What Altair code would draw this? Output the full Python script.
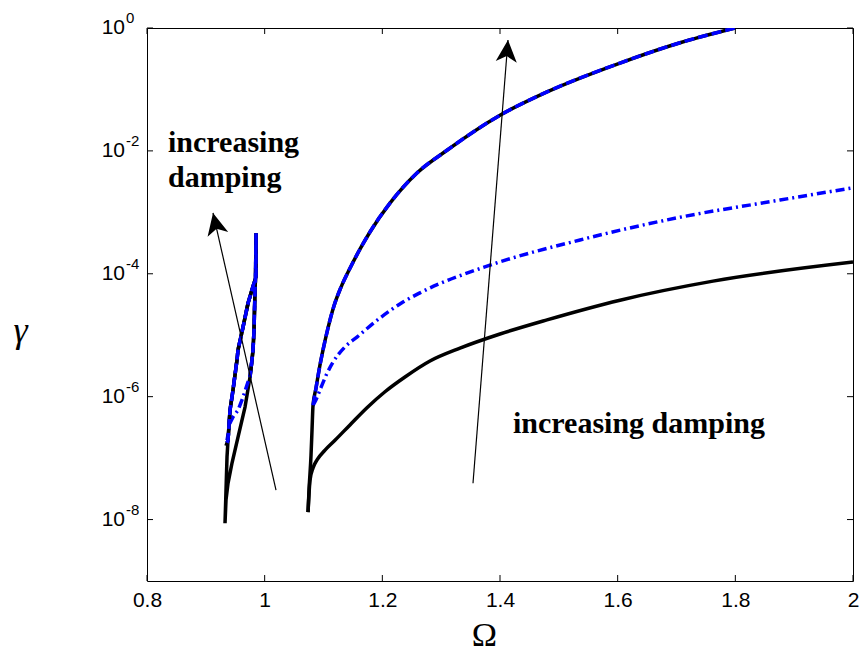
import math
import altair as alt
import pandas as pd

# ---------------- data ----------------
# x = Omega, y = log10(gamma)
# left tongue, black solid
ls_om = [0.9326, 0.9343, 0.9360, 0.9377, 0.9411, 0.9462, 0.9530, 0.9547, 0.9632, 0.9717, 0.9785, 0.9853,
         0.9853, 0.9845, 0.9836, 0.9819, 0.9802, 0.9785, 0.9751, 0.9666, 0.9547, 0.9445, 0.9377, 0.9343, 0.9326]
ls_lg = [-8.06, -7.52, -6.98, -6.71, -6.22, -5.89, -5.40, -5.24, -4.87, -4.48, -4.26, -4.05,
         -3.34, -4.05, -4.26, -4.92, -5.24, -5.40, -5.68, -6.17, -6.66, -7.08, -7.41, -7.68, -8.06]
# left tongue, blue dash-dot
ld_om = [0.9360, 0.9377, 0.9411, 0.9462, 0.9530, 0.9547, 0.9632, 0.9717, 0.9785, 0.9853, 0.9853, 0.9845,
         0.9836, 0.9819, 0.9802, 0.9785, 0.9751, 0.9717, 0.9632, 0.9547, 0.9462, 0.9411, 0.9360]
ld_lg = [-6.75, -6.71, -6.22, -5.89, -5.40, -5.24, -4.87, -4.48, -4.26, -4.05, -3.34, -4.05,
         -4.26, -4.92, -5.24, -5.40, -5.68, -5.76, -6.01, -6.22, -6.33, -6.43, -6.71]
# left tongue, dashed (black + blue)
lt_om = [0.9343, 0.9360, 0.9377, 0.9411, 0.9462, 0.9530, 0.9547, 0.9632, 0.9717, 0.9785, 0.9853, 0.9853,
         0.9845, 0.9836, 0.9819, 0.9802, 0.9785, 0.9751]
lt_lg = [-6.80, -6.75, -6.71, -6.22, -5.89, -5.40, -5.24, -4.87, -4.48, -4.26, -4.05, -3.34,
         -4.05, -4.26, -4.92, -5.24, -5.40, -5.68]

# right branch, black solid
rs_om = [1.0737, 1.0771, 1.0822, 1.0890, 1.1026, 1.1195, 1.1450, 1.1739, 1.2045, 1.2385, 1.2810,
         1.3320, 1.4000, 1.4799, 1.6040, 1.7621, 2.0000]
rs_lg = [-7.88, -7.36, -7.16, -7.03, -6.87, -6.71, -6.46, -6.18, -5.92, -5.68, -5.42,
         -5.21, -4.98, -4.75, -4.43, -4.12, -3.81]
# right branch, blue dash-dot
rd_om = [1.0822, 1.0873, 1.0941, 1.1060, 1.1161, 1.1365, 1.1569, 1.1960, 1.2351, 1.2640, 1.3830,
         1.5360, 1.7060, 1.8759, 2.0000]
rd_lg = [-6.14, -6.05, -5.89, -5.62, -5.44, -5.19, -5.03, -4.72, -4.46, -4.31, -3.86,
         -3.45, -3.08, -2.80, -2.60]
# right branch, dashed: lower black-only part, then the common black/blue part
rl_om = [1.0737, 1.0754, 1.0788, 1.0805]
rl_lg = [-7.88, -7.52, -6.95, -6.54]
rt_om = [1.0822, 1.0873, 1.0924, 1.0992, 1.1077, 1.1179, 1.1297, 1.1450, 1.1620, 1.1790, 1.2130,
         1.2589, 1.3099, 1.4000, 1.4799, 1.6040, 1.7060, 1.7994]
rt_lg = [-6.14, -5.86, -5.57, -5.24, -4.88, -4.52, -4.22, -3.91, -3.60, -3.32, -2.85,
         -2.36, -1.99, -1.42, -1.04, -0.57, -0.24, 0.0]

# arrows: tail (Omega, log10 gamma) -> tip
arr_x0 = [1.3541, 1.0193]
arr_lg0 = [-7.41, -7.52]
arr_x1 = [1.4136, 0.9122]
arr_lg1 = [-0.195, -3.01]

x_ticks = [0.8, 1.0, 1.2, 1.4, 1.6, 1.8, 2.0]
y_exps = [0, -2, -4, -6, -8]

# ---------------- layout ----------------
W, H = 706, 553
X_DOM = [0.8, 2.0]
Y_DOM = [1e-9, 1.0]


def frame(parts):
    rows = []
    for b, om, lg in parts:
        for i, (o, l) in enumerate(zip(om, lg)):
            rows.append({"branch": b, "i": i, "omega": o, "gamma": 10.0 ** l})
    return pd.DataFrame(rows)


xs = alt.Scale(domain=X_DOM, nice=False, zero=False)
ys = alt.Scale(type="log", domain=Y_DOM, nice=False)

x_axis = alt.Axis(values=x_ticks, format="~g", labelFlush=False, labelOverlap=False,
                  labelPadding=8, labelFont="Liberation Sans", labelFontSize=21, labelColor="black",
                  ticks=False, domain=False, grid=False,
                  title="Ω", titleFont="Liberation Serif", titleFontSize=34, titleFontWeight="normal",
                  titleColor="black", titleX=337, titleY=64, titleAlign="center",
                  titleBaseline="alphabetic")
y_axis = alt.Axis(values=[10.0 ** e for e in y_exps], labels=False, ticks=False, domain=False, grid=False,
                  title="γ", titleAngle=0, titleFont="Liberation Serif", titleFontStyle="italic",
                  titleFontSize=36, titleFontWeight="normal", titleColor="black",
                  titleX=-127, titleY=302, titleAlign="center", titleBaseline="middle")


def X(f):
    return alt.X(f, type="quantitative", scale=xs, axis=x_axis)


def Y(f):
    return alt.Y(f, type="quantitative", scale=ys, axis=y_axis)


def curve(df, color, dash=None, width=3.5, interp="linear"):
    kw = dict(color=color, strokeWidth=width, clip=True, strokeCap="butt", interpolate=interp)
    if dash:
        kw["strokeDash"] = dash
    return alt.Chart(df).mark_line(**kw).encode(
        x=X("omega"), y=Y("gamma"), detail="branch:N", order="i:Q")


layers = []
# left tongues (linear) and right branches (smooth)
layers.append(curve(frame([("L", ls_om, ls_lg)]), "black"))
layers.append(curve(frame([("R", rs_om, rs_lg)]), "black", interp="monotone"))
layers.append(curve(frame([("L", ld_om, ld_lg)]), "#0000ff", dash=[9, 4, 2, 4]))
layers.append(curve(frame([("R", rd_om, rd_lg)]), "#0000ff", dash=[9, 4, 2, 4], interp="monotone"))
layers.append(curve(frame([("L", lt_om, lt_lg)]), "black"))
layers.append(curve(frame([("R", rl_om + rt_om, rl_lg + rt_lg)]), "black", interp="monotone"))
layers.append(curve(frame([("L", lt_om[1:], lt_lg[1:])]), "#0000ff", dash=[10, 4]))
layers.append(curve(frame([("R", rt_om, rt_lg)]), "#0000ff", dash=[10, 4], interp="monotone"))

# inward ticks
xt_df = pd.DataFrame({"x": x_ticks})
yt_df = pd.DataFrame({"g": [10.0 ** e for e in y_exps]})
tk = dict(color="black", strokeWidth=1)
layers += [
    alt.Chart(xt_df).mark_rule(**tk).encode(x=X("x"), y=alt.value(H), y2=alt.value(H - 6)),
    alt.Chart(xt_df).mark_rule(**tk).encode(x=X("x"), y=alt.value(0), y2=alt.value(6)),
    alt.Chart(yt_df).mark_rule(**tk).encode(y=Y("g"), x=alt.value(0), x2=alt.value(6)),
    alt.Chart(yt_df).mark_rule(**tk).encode(y=Y("g"), x=alt.value(W), x2=alt.value(W - 6)),
]

# y tick labels 10^e
ylab_df = pd.DataFrame({"g": [10.0 ** e for e in y_exps], "e": [str(e) for e in y_exps]})
layers.append(alt.Chart(ylab_df).mark_text(align="right", baseline="middle", font="Liberation Sans",
                                           fontSize=21, color="black").encode(
    y=Y("g"), x=alt.value(-22), text=alt.value("10")))
layers.append(alt.Chart(ylab_df).mark_text(align="left", baseline="alphabetic", font="Liberation Sans",
                                           fontSize=15, color="black", dy=-5).encode(
    y=Y("g"), x=alt.value(-21), text="e:N"))

# arrows
arr_df = pd.DataFrame({
    "x0": arr_x0, "y0": [10.0 ** v for v in arr_lg0],
    "x1": arr_x1, "y1": [10.0 ** v for v in arr_lg1],
})
px_per_x = W / (X_DOM[1] - X_DOM[0])
px_per_dec = H / (math.log10(Y_DOM[1]) - math.log10(Y_DOM[0]))
arr_df["ang"] = [
    math.degrees(math.atan2((a1 - a0) * px_per_x, (l1 - l0) * px_per_dec)) % 360
    for a0, a1, l0, l1 in zip(arr_x0, arr_x1, arr_lg0, arr_lg1)
]
layers.append(alt.Chart(arr_df).mark_rule(color="black", strokeWidth=1.2).encode(
    x=X("x0"), y=Y("y0"), x2="x1", y2="y1"))
head_path = "M0,0 L0.72,1.5 L0,1.1 L-0.72,1.5 Z"
layers.append(alt.Chart(arr_df).mark_point(shape=head_path, filled=True, size=860, color="black",
                                           opacity=1, strokeWidth=0).encode(
    x=X("x1"), y=Y("y1"), angle=alt.Angle("ang:Q", scale=None)))

# annotation texts
txt_df = pd.DataFrame({
    "x": [0.8357, 1.4221],
    "g": [10.0 ** -2.02, 10.0 ** -6.59],
    "t": ["increasing\ndamping", "increasing damping"],
})
layers.append(alt.Chart(txt_df).mark_text(align="left", baseline="alphabetic", font="Liberation Serif",
                                          fontWeight="bold", fontSize=30, lineHeight=35, lineBreak="\n",
                                          color="black").encode(
    x=X("x"), y=Y("g"), text="t:N"))

chart = alt.layer(*layers).properties(
    width=W, height=H, autosize="none",
    padding={"left": 147, "top": 28, "right": 13, "bottom": 72},
    background="white",
).configure_view(stroke="black", strokeWidth=1)

chart.save("out.html", embed_options={"renderer": "svg", "actions": False})
